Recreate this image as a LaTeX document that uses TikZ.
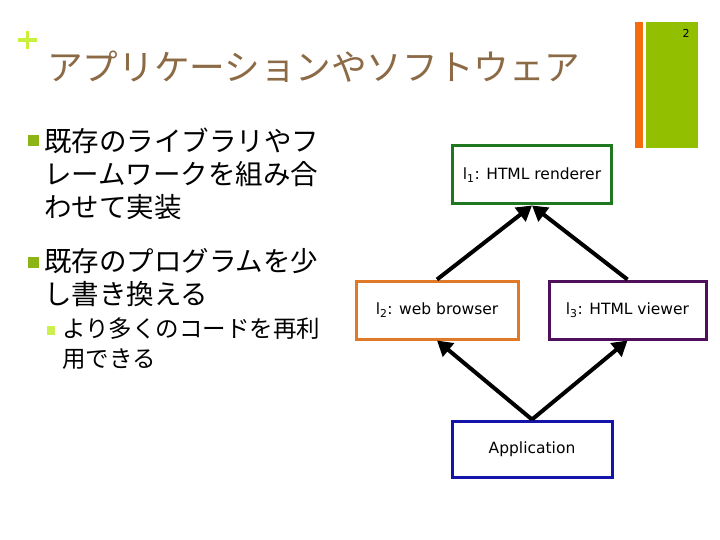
\documentclass[tikz,border=0pt]{standalone}
\usepackage{fontspec}
\setmainfont{DejaVu Sans}
\newfontfamily\jpfont{Noto Sans CJK JP}
\newfontfamily\boxfont{DejaVu Sans}
\usetikzlibrary{arrows.meta}
\definecolor{titlebrown}{RGB}{140,106,70}
\definecolor{plusgreen}{RGB}{200,240,60}
\definecolor{barorange}{RGB}{245,108,15}
\definecolor{bargreen}{RGB}{146,192,0}
\definecolor{bulletgreen}{RGB}{140,180,20}
\definecolor{subbullet}{RGB}{205,240,80}
\definecolor{bgreen}{RGB}{31,120,31}
\definecolor{borange}{RGB}{224,122,40}
\definecolor{bpurple}{RGB}{80,15,90}
\definecolor{bblue}{RGB}{20,20,170}
\tikzset{
  layerbox/.style={draw, line width=3pt, fill=white, inner sep=0pt,
    font=\boxfont\fontsize{15.5}{18}\selectfont},
  jptext/.style={anchor=west, inner sep=0pt, font=\jpfont\fontsize{27.5}{30}\selectfont},
  jpsub/.style={anchor=west, inner sep=0pt, font=\jpfont\fontsize{23.5}{26}\selectfont},
  arr/.style={line width=4pt, -{Triangle[width=17pt,length=15pt]}},
}
\begin{document}
\begin{tikzpicture}[x=1pt,y=-1pt]
\useasboundingbox (0,0) rectangle (720,540);
% header decoration
\fill[plusgreen] (18,38.5) rectangle (37,42);
\fill[plusgreen] (25.8,31) rectangle (29.2,49);
\node[anchor=west, inner sep=0pt, text=titlebrown, font=\jpfont\fontsize{35.6}{38}\selectfont] (title) at (47,67) {アプリケーションやソフトウェア};
\fill[barorange] (635,22) rectangle (643,148);
\fill[bargreen] (646,22) rectangle (698,148);
\node[inner sep=0pt, font=\fontsize{11}{12}\selectfont] (pagenum) at (686,33) {2};
% bullets
\fill[bulletgreen] (27.5,135.5) rectangle (38.5,146.5);
\node[jptext] (t1a) at (44,141) {既存のライブラリやフ};
\node[jptext] (t1b) at (44,174) {レームワークを組み合};
\node[jptext] (t1c) at (44,207) {わせて実装};
\fill[bulletgreen] (27.5,256.5) rectangle (38.5,267.5);
\node[jptext] (t2a) at (44,261) {既存のプログラムを少};
\node[jptext] (t2b) at (44,294) {し書き換える};
\fill[subbullet] (47,326) rectangle (55,335);
\node[jpsub] (t3a) at (62,329) {より多くのコードを再利};
\node[jpsub] (t3b) at (62,359) {用できる};
% boxes
\node[layerbox, draw=bgreen, minimum width=159pt, minimum height=58pt] (l1) at (532,175) {l\textsubscript{1}: HTML renderer};
\node[layerbox, draw=borange, minimum width=162pt, minimum height=58pt] (l2) at (437,310) {l\textsubscript{2}: web browser};
\node[layerbox, draw=bpurple, minimum width=157pt, minimum height=58pt] (l3) at (627.5,310) {l\textsubscript{3}: HTML viewer};
\node[layerbox, draw=bblue, minimum width=160pt, minimum height=56pt] (app) at (532,449) {Application};
% arrows
\draw[arr] (l2.north) -- (l1.south);
\draw[arr] (l3.north) -- (l1.south);
\draw[arr] (app.north) -- (l2.south);
\draw[arr] (app.north) -- (l3.south);
\end{tikzpicture}
\end{document}
